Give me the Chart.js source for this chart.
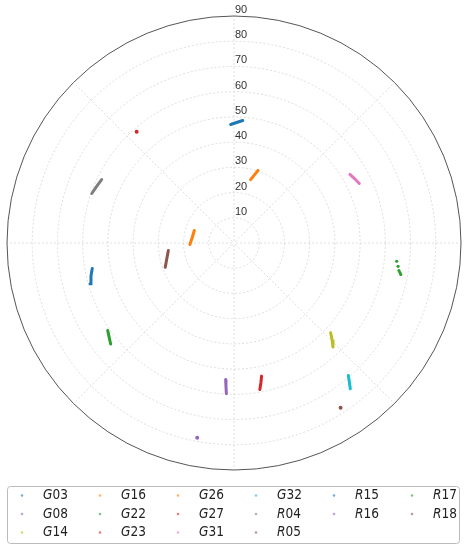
<!DOCTYPE html>
<html>
<head>
<meta charset="utf-8">
<script src="https://cdn.jsdelivr.net/npm/chart.js@4.4.1/dist/chart.umd.min.js"></script>
<style>
    html, body { margin: 0; padding: 0; background: #fff; }
    #skyplot { display: block; }
</style>
</head>
<body>
<canvas id="skyplot" width="467" height="550"></canvas>
<script>
// satellites, in legend order
const satellites = ['G03', 'G08', 'G14', 'G16', 'G22', 'G23', 'G26', 'G27',
                    'G31', 'G32', 'R04', 'R05', 'R15', 'R16', 'R17', 'R18'];

// azimuth (deg, clockwise from north) of each track
const azimuths = [
    [358.4, 1.2, 4.1],        // G03
    [183.5, 183.2, 182.9],    // G08
    [132.9, 134.6, 136.4],    // G14
    [14.7, 16.6, 18.3],       // G16
    [235.3, 233.0, 230.7],    // G22
    [168.3, 169.1, 170.0],    // G23
    [268.0, 277.5, 287.5],    // G26
    [318.8],                  // G27
    [59.4, 62.0, 64.6],       // G31
    [139.2, 140.3, 141.4],    // G32
    [295.6, 292.4, 289.2],    // R04
    [250.6, 256.7, 263.5],    // R05
    [254.2, 257.0, 259.8],    // R15
    [190.7],                  // R16
    [96.4, 98.1, 99.5, 100.1, 100.7], // R17
    [147.1]                   // R18
];

// radial value of each track point (0 at centre, 90 at the rim)
const radials = [
    [47.0, 47.8, 48.7],
    [54.2, 57.0, 59.8],
    [52.3, 54.6, 56.9],
    [26.0, 28.1, 30.3],
    [60.9, 62.0, 63.2],
    [53.9, 56.4, 59.0],
    [17.5, 16.7, 16.5],
    [58.6],
    [53.4, 54.2, 55.0],
    [69.4, 71.6, 73.9],
    [58.2, 58.9, 59.7],
    [28.9, 27.4, 26.2],
    [59.3, 58.2, 57.1],
    [78.6],
    [64.9, 65.7, 66.3, 66.85, 67.3],
    [77.8]
];

const ringValues = [10, 20, 30, 40, 50, 60, 70, 80, 90];
const spokeAngles = [0, 45, 90, 135, 180, 225, 270, 315];
const dottedTracks = ['R17'];

const satColors = {
    G03: '#1f77b4', G08: '#9467bd', G14: '#bcbd22', G16: '#ff7f0e',
    G22: '#2ca02c', G23: '#d62728', G26: '#ff7f0e', G27: '#d62728',
    G31: '#e377c2', G32: '#17becf', R04: '#7f7f7f', R05: '#8c564b',
    R15: '#1f77b4', R16: '#9467bd', R17: '#2ca02c', R18: '#8c564b'
};

const datasets = satellites.map((sat, i) => {
    const pts = azimuths[i].map((az, j) => {
        const a = az * Math.PI / 180;
        return { x: radials[i][j] * Math.sin(a), y: radials[i][j] * Math.cos(a) };
    });
    const single = pts.length === 1;
    const dotted = dottedTracks.includes(sat);
    return {
        label: sat,
        data: pts,
        showLine: !single && !dotted,
        borderColor: satColors[sat],
        backgroundColor: satColors[sat],
        borderWidth: 3,
        borderCapStyle: 'round',
        pointRadius: single ? 2 : (dotted ? 1.6 : 0),
        pointBorderWidth: 0
    };
});

const polarGrid = {
    id: 'polarGrid',
    beforeDatasetsDraw(chart) {
        const { ctx, scales: { x, y } } = chart;
        const cx = x.getPixelForValue(0), cy = y.getPixelForValue(0);
        const rpx = v => x.getPixelForValue(v) - cx;
        ctx.save();
        ctx.strokeStyle = '#d6d6d6';
        ctx.lineWidth = 0.8;
        ctx.setLineDash([2, 2]);
        ringValues.slice(0, -1).forEach(v => {
            ctx.beginPath();
            ctx.arc(cx, cy, rpx(v), 0, Math.PI * 2);
            ctx.stroke();
        });
        const R = rpx(90);
        spokeAngles.forEach(deg => {
            const a = deg * Math.PI / 180;
            ctx.beginPath();
            ctx.moveTo(cx + 2 * Math.sin(a), cy - 2 * Math.cos(a));
            ctx.lineTo(cx + R * Math.sin(a), cy - R * Math.cos(a));
            ctx.stroke();
        });
        ctx.setLineDash([]);
        ctx.strokeStyle = '#555';
        ctx.lineWidth = 1;
        ctx.beginPath();
        ctx.arc(cx, cy, R, 0, Math.PI * 2);
        ctx.stroke();
        ctx.restore();
    },
    afterDatasetsDraw(chart) {
        const { ctx, scales: { x, y } } = chart;
        const cx = x.getPixelForValue(0);
        ctx.save();
        ctx.fillStyle = '#333';
        ctx.font = '11px "Liberation Sans", Arial, sans-serif';
        ctx.textAlign = 'left';
        ctx.textBaseline = 'middle';
        ringValues.forEach(v => {
            ctx.fillText(String(v), cx + 1, y.getPixelForValue(v) - 6);
        });
        ctx.restore();
    }
};

// matplotlib-like legend box, 6 columns filled column by column
const boxLegend = {
    id: 'boxLegend',
    afterDraw(chart) {
        const ctx = chart.ctx;
        const items = chart.data.datasets;
        const nCols = 6;
        const nRows = Math.ceil(items.length / nCols);
        const fullCols = items.length - (nRows - 1) * nCols;
        const cellOf = i => {
            const split = fullCols * nRows;
            if (i < split) return [Math.floor(i / nRows), i % nRows];
            const k = i - split;
            return [fullCols + Math.floor(k / (nRows - 1)), k % (nRows - 1)];
        };
        ctx.save();
        ctx.strokeStyle = '#bbb';
        ctx.lineWidth = 1;
        ctx.beginPath();
        ctx.roundRect(7.5, 486.5, 452, 57, 3);
        ctx.stroke();
        items.forEach((ds, i) => {
            const [col, row] = cellOf(i);
            const yy = 495.5 + row * 18.5;
            const mx = 22 + col * 78;
            ctx.globalAlpha = 0.6;
            ctx.fillStyle = ds.borderColor;
            ctx.beginPath();
            ctx.arc(mx, yy, 1.3, 0, Math.PI * 2);
            ctx.fill();
            ctx.globalAlpha = 1;
            ctx.fillStyle = '#222';
            ctx.textBaseline = 'middle';
            ctx.textAlign = 'left';
            let tx = 43 + col * 78;
            ctx.font = 'italic 13.5px "DejaVu Sans Condensed", "Liberation Sans Narrow", "Liberation Sans", sans-serif';
            ctx.fillText(ds.label[0], tx, yy);
            tx += ctx.measureText(ds.label[0]).width;
            ctx.font = '13.5px "DejaVu Sans Condensed", "Liberation Sans Narrow", "Liberation Sans", sans-serif';
            ctx.fillText(ds.label.slice(1), tx, yy);
        });
        ctx.restore();
    }
};

new Chart(document.getElementById('skyplot'), {
    type: 'scatter',
    data: { datasets },
    options: {
        responsive: false,
        animation: false,
        layout: { padding: { left: 7, right: 6, top: 16, bottom: 80 } },
        scales: {
            x: { type: 'linear', min: -90, max: 90, display: false },
            y: { type: 'linear', min: -90, max: 90, display: false }
        },
        plugins: {
            legend: { display: false },
            tooltip: { enabled: false }
        }
    },
    plugins: [polarGrid, boxLegend]
});
</script>
</body>
</html>
